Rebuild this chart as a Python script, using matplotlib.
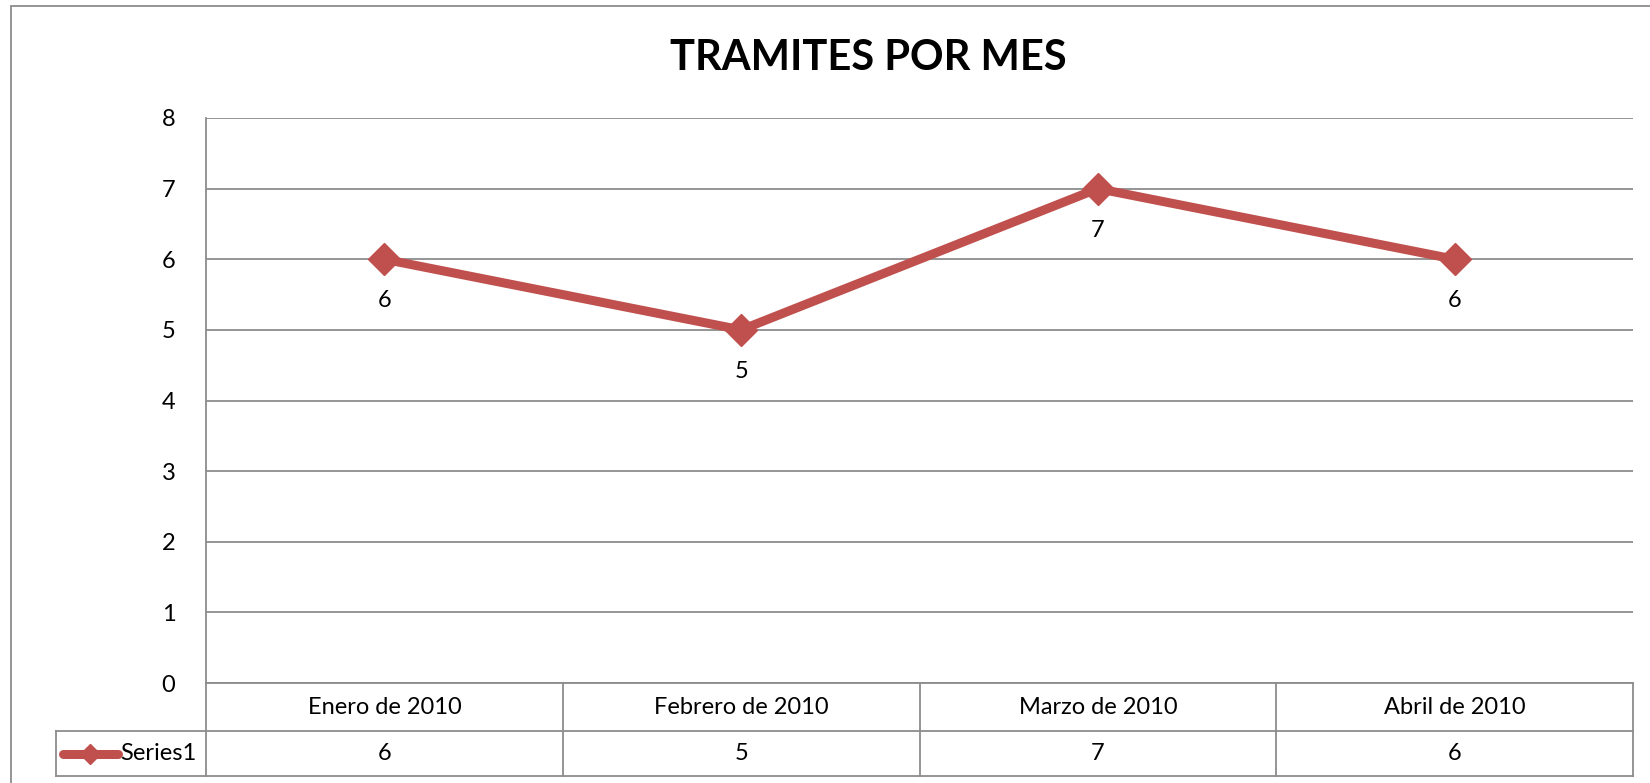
import matplotlib.pyplot as plt
from matplotlib.patches import Rectangle
from matplotlib.lines import Line2D
from matplotlib.transforms import blended_transform_factory

meses = ["Enero de 2010", "Febrero de 2010", "Marzo de 2010", "Abril de 2010"]
tramites = [6, 5, 7, 6]
serie = "Series1"

rojo = "#C0504D"
gris = "#8C8C8C"
fs = 17
plt.rcParams['font.family'] = ['Lato', 'DejaVu Sans']

fig = plt.figure(figsize=(16.5, 7.83), dpi=100)
ax = fig.add_axes([206 / 1650, 1 - 683 / 783, (1633 - 206) / 1650, (683 - 118) / 783])

x = list(range(len(meses)))
ax.plot(x, tramites, color=rojo, lw=6.5, marker="D", ms=16, solid_capstyle="round", zorder=3)
for xi, v in zip(x, tramites):
    ax.annotate(str(v), (xi, v), xytext=(0, -30), textcoords="offset points",
                ha="center", va="center", fontsize=fs)

ax.set_xlim(-0.5, len(meses) - 0.5)
ax.set_ylim(0, 8)
ax.set_yticks(range(0, 9))
ax.yaxis.grid(True, color=gris, lw=1.3)
ax.set_axisbelow(True)
ax.tick_params(axis="y", length=0, labelsize=fs, pad=22)
ax.set_xticks([])
for s in ["top", "right", "bottom"]:
    ax.spines[s].set_visible(False)
ax.spines["left"].set_color(gris)
ax.spines["left"].set_linewidth(1.3)

# tabla de datos bajo el eje
tr = blended_transform_factory(ax.transData, ax.transAxes)
h = 565.0
y0, y1, y2 = 0, -48 / h, -93 / h
ux = 1 / (1427 / 4)
xl = -0.5 - 150 * ux
kw = dict(transform=tr, clip_on=False, color=gris, lw=1.3)
ax.add_line(Line2D([-0.5, 3.5], [y0, y0], **kw))
ax.add_line(Line2D([xl, 3.5], [y1, y1], **kw))
ax.add_line(Line2D([xl, 3.5], [y2, y2], **kw))
for xb in [-0.5, 0.5, 1.5, 2.5, 3.5]:
    ax.add_line(Line2D([xb, xb], [y0, y2], **kw))
ax.add_line(Line2D([xl, xl], [y1, y2], **kw))
for xi, m, v in zip(x, meses, tramites):
    ax.text(xi, (y0 + y1) / 2, m, transform=tr, ha="center", va="center", fontsize=fs)
    ax.text(xi, (y1 + y2) / 2, str(v), transform=tr, ha="center", va="center", fontsize=fs)
# clave de la leyenda
ym = (y1 + y2) / 2
ax.add_line(Line2D([xl + 7 * ux, xl + 62 * ux], [ym, ym], transform=tr, clip_on=False,
                   color=rojo, lw=6.5, solid_capstyle="round"))
ax.add_line(Line2D([xl + 34 * ux], [ym], transform=tr, clip_on=False, color=rojo,
                   marker="D", ms=10, lw=0))
ax.text(xl + 64 * ux, ym, serie, transform=tr, ha="left", va="center", fontsize=fs)

fig.text(868 / 1650, 1 - 58 / 783, "TRAMITES POR MES", ha="center", va="center",
         fontsize=30, fontweight="bold")

fig.patches.append(Rectangle((11 / 1650, -0.05), 1.1, 1 - 6 / 783 + 0.05,
                             transform=fig.transFigure, fill=False, ec=gris, lw=1.3))

fig.savefig("out.png", dpi=100)
